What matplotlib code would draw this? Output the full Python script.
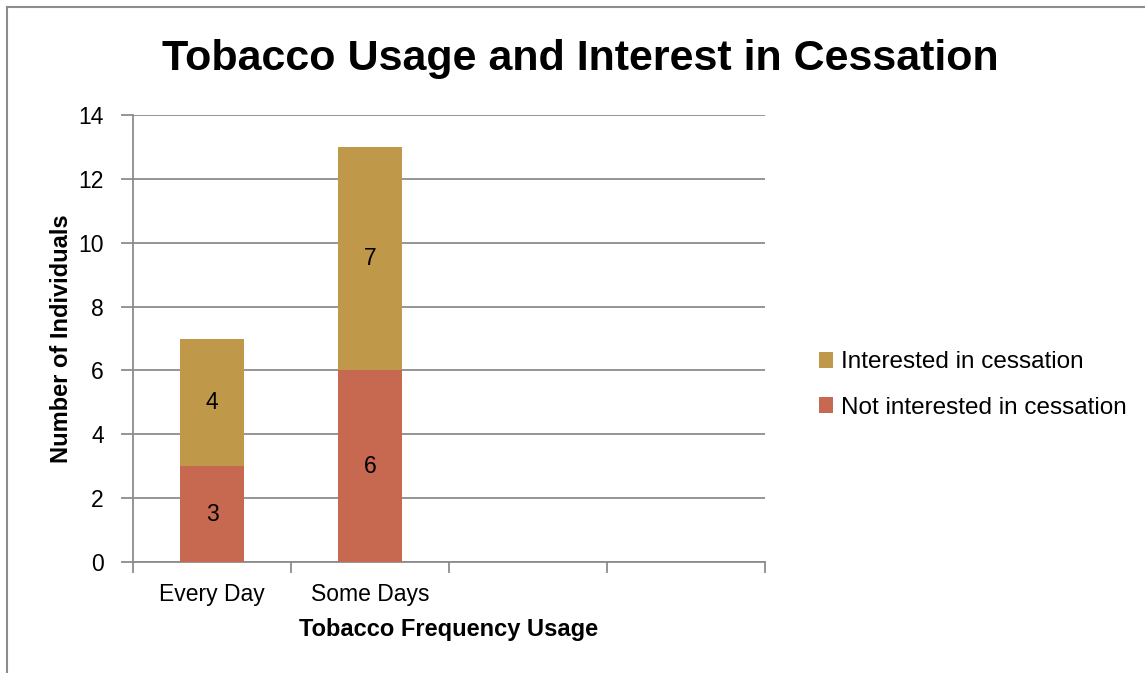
import numpy as np
import matplotlib
matplotlib.use("Agg")
import matplotlib.pyplot as plt
from matplotlib.patches import Patch
from matplotlib.lines import Line2D

# Datos
categories = ["Every Day", "Some Days", "", ""]
not_interested = [3, 6]
interested = [4, 7]
y_ticks = [0, 2, 4, 6, 8, 10, 12, 14]

color_interested = "#C0984A"
color_not = "#C76850"
grid_color = "#8C8C8C"

plt.rcParams["font.family"] = ["Liberation Sans", "DejaVu Sans"]

fig = plt.figure(figsize=(11.45, 6.73), dpi=100)
ax = fig.add_axes([133 / 1145, 1 - 562 / 673, 632 / 1145, 447 / 673])

x = np.arange(len(not_interested))
width = 0.4
ax.bar(x, not_interested, width, color=color_not, zorder=3)
ax.bar(x, interested, width, bottom=not_interested, color=color_interested, zorder=3)

# Etiquetas de valores
for i in range(len(x)):
    ax.text(x[i], not_interested[i] / 2, str(not_interested[i]), ha="center", va="center",
            fontsize=16.5, zorder=4)
    ax.text(x[i], not_interested[i] + interested[i] / 2, str(interested[i]), ha="center",
            va="center", fontsize=16.5, zorder=4)

ax.set_xlim(-0.5, len(categories) - 0.5)
ax.set_ylim(0, 14)
ax.set_yticks(y_ticks)
ax.set_yticklabels([str(v) for v in y_ticks], fontsize=16.5)
ax.yaxis.grid(True, color=grid_color, linewidth=1.3, zorder=0)

# Ticks de categoría en los bordes, etiquetas en el centro
ax.set_xticks(np.arange(len(categories) + 1) - 0.5)
ax.set_xticklabels([])
ax.set_xticks(np.arange(len(categories)), minor=True)
ax.set_xticklabels(categories, minor=True, fontsize=16.5)
ax.tick_params(axis="x", which="minor", length=0, pad=15)
ax.tick_params(axis="x", which="major", length=8, width=1.3, color=grid_color)
ax.tick_params(axis="y", length=9, width=1.3, color=grid_color, pad=12)

for side in ["top", "right"]:
    ax.spines[side].set_visible(False)
for side in ["left", "bottom"]:
    ax.spines[side].set_color(grid_color)
    ax.spines[side].set_linewidth(1.3)

ax.set_xlabel("Tobacco Frequency Usage", fontsize=17, fontweight="bold", labelpad=9)
ax.set_ylabel("Number of Individuals", fontsize=17, fontweight="bold", labelpad=4)

fig.text(580 / 1145, 1 - 59 / 673, "Tobacco Usage and Interest in Cessation", ha="center",
         va="center", fontsize=31, fontweight="bold")

legend_elements = [
    Patch(facecolor=color_interested, label="Interested in cessation"),
    Patch(facecolor=color_not, label="Not interested in cessation"),
]
fig.legend(handles=legend_elements, loc="center left", bbox_to_anchor=(797 / 1145, 1 - 385 / 673),
           frameon=False, fontsize=17.5, handlelength=0.6, handleheight=0.6, handletextpad=0.3,
           labelspacing=0.95)

# Borde del gráfico
fig.add_artist(Line2D([7 / 1145, 7 / 1145], [0, 1 - 7 / 673], color=grid_color, linewidth=1.5,
                      transform=fig.transFigure))
fig.add_artist(Line2D([7 / 1145, 1], [1 - 7 / 673, 1 - 7 / 673], color=grid_color, linewidth=1.5,
                      transform=fig.transFigure))

fig.savefig("out.png", dpi=100)
